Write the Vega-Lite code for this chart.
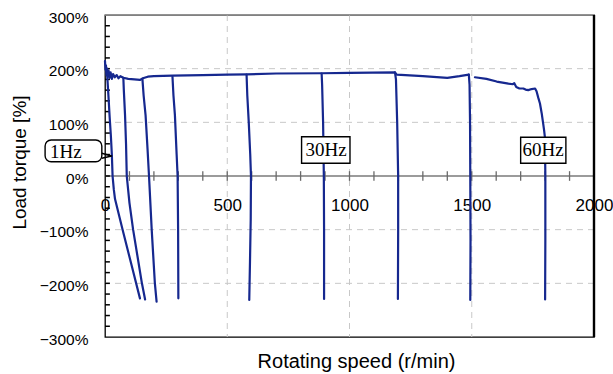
{
  "$schema": "https://vega.github.io/schema/vega-lite/v6.json",
  "width": 489,
  "height": 322,
  "autosize": {"type": "none"},
  "padding": {"left": 105, "top": 15, "right": 19, "bottom": 37},
  "background": "white",
  "config": {"view": {"stroke": "#000", "strokeWidth": 1.3}, "font": "Liberation Sans"},
  "datasets": {
    "curves": [
      {"s":"env","i":0,"v":0,"t":214},{"s":"env","i":1,"v":2,"t":198},{"s":"env","i":2,"v":4,"t":206},{"s":"env","i":3,"v":6,"t":188},{"s":"env","i":4,"v":9,"t":200},{"s":"env","i":5,"v":12,"t":185},{"s":"env","i":6,"v":15,"t":196},{"s":"env","i":7,"v":19,"t":183},{"s":"env","i":8,"v":23,"t":193},{"s":"env","i":9,"v":28,"t":181},{"s":"env","i":10,"v":33,"t":190},{"s":"env","i":11,"v":40,"t":184},{"s":"env","i":12,"v":48,"t":188},{"s":"env","i":13,"v":55,"t":182},{"s":"env","i":14,"v":63,"t":186},{"s":"env","i":15,"v":75,"t":183},{"s":"env","i":16,"v":95,"t":181},{"s":"env","i":17,"v":120,"t":180},{"s":"env","i":18,"v":143,"t":179},{"s":"env","i":19,"v":155,"t":182},{"s":"env","i":20,"v":175,"t":185},{"s":"env","i":21,"v":200,"t":186},{"s":"env","i":22,"v":276,"t":187},{"s":"env","i":23,"v":400,"t":188},{"s":"env","i":24,"v":500,"t":189},{"s":"env","i":25,"v":580,"t":189.5},{"s":"env","i":26,"v":700,"t":191},{"s":"env","i":27,"v":886,"t":191.5},{"s":"env","i":28,"v":1000,"t":192},{"s":"env","i":29,"v":1186,"t":193},{"s":"env","i":30,"v":1193,"t":189},{"s":"env","i":31,"v":1300,"t":186},{"s":"env","i":32,"v":1400,"t":183},{"s":"env","i":33,"v":1450,"t":186},{"s":"env","i":34,"v":1488,"t":189},
      {"s":"1Hz","i":0,"v":8,"t":194},{"s":"1Hz","i":1,"v":10,"t":180},{"s":"1Hz","i":2,"v":14,"t":150},{"s":"1Hz","i":3,"v":19,"t":110},{"s":"1Hz","i":4,"v":24,"t":75},{"s":"1Hz","i":5,"v":28,"t":40},{"s":"1Hz","i":6,"v":31,"t":0},{"s":"1Hz","i":7,"v":36,"t":-25},{"s":"1Hz","i":8,"v":41,"t":-43},{"s":"1Hz","i":9,"v":72,"t":-100},{"s":"1Hz","i":10,"v":108,"t":-165},{"s":"1Hz","i":11,"v":143,"t":-228},
      {"s":"3Hz","i":0,"v":75,"t":183},{"s":"3Hz","i":1,"v":77,"t":160},{"s":"3Hz","i":2,"v":82,"t":113},{"s":"3Hz","i":3,"v":86,"t":60},{"s":"3Hz","i":4,"v":89,"t":0},{"s":"3Hz","i":5,"v":100,"t":-50},{"s":"3Hz","i":6,"v":115,"t":-100},{"s":"3Hz","i":7,"v":133,"t":-150},{"s":"3Hz","i":8,"v":151,"t":-200},{"s":"3Hz","i":9,"v":164,"t":-230},
      {"s":"6Hz","i":0,"v":153,"t":181},{"s":"6Hz","i":1,"v":158,"t":150},{"s":"6Hz","i":2,"v":166,"t":113},{"s":"6Hz","i":3,"v":174,"t":50},{"s":"6Hz","i":4,"v":180,"t":0},{"s":"6Hz","i":5,"v":191,"t":-100},{"s":"6Hz","i":6,"v":204,"t":-200},{"s":"6Hz","i":7,"v":211,"t":-234},
      {"s":"10Hz","i":0,"v":276,"t":185},{"s":"10Hz","i":1,"v":280,"t":150},{"s":"10Hz","i":2,"v":286,"t":113},{"s":"10Hz","i":3,"v":293,"t":40},{"s":"10Hz","i":4,"v":297,"t":0},{"s":"10Hz","i":5,"v":299,"t":-100},{"s":"10Hz","i":6,"v":300,"t":-228},
      {"s":"20Hz","i":0,"v":579,"t":189},{"s":"20Hz","i":1,"v":582,"t":150},{"s":"20Hz","i":2,"v":588,"t":100},{"s":"20Hz","i":3,"v":594,"t":40},{"s":"20Hz","i":4,"v":597,"t":0},{"s":"20Hz","i":5,"v":596,"t":-80},{"s":"20Hz","i":6,"v":593,"t":-160},{"s":"20Hz","i":7,"v":590,"t":-231},
      {"s":"30Hz","i":0,"v":886,"t":191},{"s":"30Hz","i":1,"v":888,"t":170},{"s":"30Hz","i":2,"v":892,"t":100},{"s":"30Hz","i":3,"v":895,"t":0},{"s":"30Hz","i":4,"v":896,"t":-100},{"s":"30Hz","i":5,"v":896,"t":-229},
      {"s":"40Hz","i":0,"v":1186,"t":193},{"s":"40Hz","i":1,"v":1190,"t":180},{"s":"40Hz","i":2,"v":1195,"t":100},{"s":"40Hz","i":3,"v":1199,"t":0},{"s":"40Hz","i":4,"v":1199,"t":-100},{"s":"40Hz","i":5,"v":1198,"t":-229},
      {"s":"50Hz","i":0,"v":1488,"t":189},{"s":"50Hz","i":1,"v":1491,"t":170},{"s":"50Hz","i":2,"v":1493,"t":100},{"s":"50Hz","i":3,"v":1494,"t":0},{"s":"50Hz","i":4,"v":1495,"t":-120},{"s":"50Hz","i":5,"v":1494,"t":-231},
      {"s":"60Hz","i":0,"v":1513,"t":184},{"s":"60Hz","i":1,"v":1560,"t":181},{"s":"60Hz","i":2,"v":1602,"t":176},{"s":"60Hz","i":3,"v":1650,"t":172},{"s":"60Hz","i":4,"v":1668,"t":171},{"s":"60Hz","i":5,"v":1674,"t":173},{"s":"60Hz","i":6,"v":1682,"t":166},{"s":"60Hz","i":7,"v":1695,"t":163},{"s":"60Hz","i":8,"v":1711,"t":163},{"s":"60Hz","i":9,"v":1720,"t":161},{"s":"60Hz","i":10,"v":1731,"t":160},{"s":"60Hz","i":11,"v":1745,"t":162},{"s":"60Hz","i":12,"v":1759,"t":163},{"s":"60Hz","i":13,"v":1765,"t":158},{"s":"60Hz","i":14,"v":1772,"t":146},{"s":"60Hz","i":15,"v":1779,"t":135},{"s":"60Hz","i":16,"v":1786,"t":117},{"s":"60Hz","i":17,"v":1792,"t":98},{"s":"60Hz","i":18,"v":1796,"t":85},{"s":"60Hz","i":19,"v":1799,"t":73},{"s":"60Hz","i":20,"v":1800,"t":40},{"s":"60Hz","i":21,"v":1801,"t":0},{"s":"60Hz","i":22,"v":1801,"t":-120},{"s":"60Hz","i":23,"v":1800,"t":-230}
    ],
    "boxes": [
      {"label":"1Hz","v":-245,"v2":-13,"t":67,"t2":26.6,"tv":-160,"tt":44.7,"round":1},
      {"label":"30Hz","v":804,"v2":1002,"t":73.2,"t2":23.7,"tv":904,"tt":48.4,"round":0},
      {"label":"60Hz","v":1700,"v2":1885,"t":72.1,"t2":23.7,"tv":1792,"tt":48.4,"round":0}
    ],
    "pointer": [
      {"i":0,"v":-13,"t":42.3},{"i":1,"v":27,"t":37.3},{"i":2,"v":-13,"t":33}
    ],
    "yticks": [
      {"t":-280},{"t":-260},{"t":-240},{"t":-220},{"t":-200},{"t":-180},{"t":-160},{"t":-140},{"t":-120},{"t":-100},{"t":-80},{"t":-60},{"t":-40},{"t":-20},{"t":0},{"t":20},{"t":40},{"t":60},{"t":80},{"t":100},{"t":120},{"t":140},{"t":160},{"t":180},{"t":200},{"t":220},{"t":240},{"t":260},{"t":280}
    ],
    "xticks": [
      {"v":100},{"v":200},{"v":300},{"v":400},{"v":500},{"v":600},{"v":700},{"v":800},{"v":900},{"v":1000},{"v":1100},{"v":1200},{"v":1300},{"v":1400},{"v":1500},{"v":1600},{"v":1700},{"v":1800},{"v":1900}
    ]
  },
  "layer": [
    {
      "data": {"name":"curves"},
      "mark": {"type":"line","color":"#16288f","strokeWidth":2.2,"opacity":0},
      "encoding": {
        "x": {"field":"v","type":"quantitative","scale":{"domain":[0,2000],"nice":false},
          "axis": {"orient":"bottom","offset":-161,"domain":false,"grid":false,"ticks":false,"tickSize":0,
            "values":[0,500,1000,1500,2000],
            "format":"d","labelFlush":false,"labelOverlap":false,
            "labelFont":"Liberation Sans","labelFontSize":17,"labelColor":"#000","labelPadding":29,"labelBaseline":"middle",
            "title":"Rotating speed (r/min)","titleFont":"Liberation Sans","titleFontSize":20,"titleFontWeight":"normal","titleColor":"#000",
            "titleX":251,"titleY":191,"titleBaseline":"alphabetic","titleAlign":"center"}},
        "y": {"field":"t","type":"quantitative","scale":{"domain":[-300,300],"nice":false},
          "axis": {"orient":"left","domain":false,"grid":false,"ticks":false,"tickSize":0,
            "values":[-300,-200,-100,0,100,200,300],
            "labelExpr":"format(datum.value, 'd') + '%'","labelOverlap":false,
            "labelFont":"Liberation Sans","labelFontSize":15.5,"labelColor":"#000","labelPadding":17,"labelBaseline":"middle","labelOffset":2,
            "title":"Load torque [%]","titleFont":"Liberation Sans","titleFontSize":19,"titleFontWeight":"normal","titleColor":"#000",
            "titleX":-85.5,"titleY":147,"titleAngle":-90,"titleBaseline":"middle","titleAlign":"center"}},
        "detail": {"field":"s"},
        "order": {"field":"i","type":"quantitative"}
      }
    },
    {
      "data": {"values": [{"t":200},{"t":100},{"t":-100},{"t":-200}]},
      "mark": {"type":"rule","color":"#c8c8c8","strokeDash":[6,5],"strokeWidth":1},
      "encoding": {"y": {"field":"t","type":"quantitative","scale":{"domain":[-300,300],"nice":false}}}
    },
    {
      "data": {"values": [{"v":500},{"v":1000},{"v":1500}]},
      "mark": {"type":"rule","color":"#c8c8c8","strokeDash":[6,5],"strokeWidth":1},
      "encoding": {"x": {"field":"v","type":"quantitative","scale":{"domain":[0,2000],"nice":false}}}
    },
    {
      "data": {"values": [{"t":0}]},
      "mark": {"type":"rule","color":"#7a7a7a","strokeWidth":1.5},
      "encoding": {"y": {"field":"t","type":"quantitative","scale":{"domain":[-300,300],"nice":false}}}
    },
    {
      "data": {"name":"xticks"},
      "mark": {"type":"rule","color":"#6a6a6a","strokeWidth":1.3},
      "encoding": {
        "x": {"field":"v","type":"quantitative","scale":{"domain":[0,2000],"nice":false}},
        "y": {"datum":-9,"type":"quantitative","scale":{"domain":[-300,300],"nice":false}},
        "y2": {"datum":9}
      }
    },
    {
      "data": {"name":"yticks"},
      "mark": {"type":"rule","color":"#000","strokeWidth":1.5},
      "encoding": {
        "y": {"field":"t","type":"quantitative","scale":{"domain":[-300,300],"nice":false}},
        "x": {"datum":0,"type":"quantitative","scale":{"domain":[0,2000],"nice":false}},
        "x2": {"datum":20}
      }
    },
    {
      "data": {"name":"curves"},
      "mark": {"type":"line","color":"#16288f","strokeWidth":2.2,"strokeJoin":"round","strokeCap":"round"},
      "encoding": {
        "x": {"field":"v","type":"quantitative","scale":{"domain":[0,2000],"nice":false}},
        "y": {"field":"t","type":"quantitative","scale":{"domain":[-300,300],"nice":false}},
        "detail": {"field":"s"},
        "order": {"field":"i","type":"quantitative"}
      }
    },
    {
      "data": {"name":"boxes"},
      "transform": [{"filter":"datum.round == 1"}],
      "mark": {"type":"rect","fill":"white","stroke":"#000","strokeWidth":1.4,"cornerRadius":6},
      "encoding": {
        "x": {"field":"v","type":"quantitative","scale":{"domain":[0,2000],"nice":false}},
        "x2": {"field":"v2"},
        "y": {"field":"t","type":"quantitative","scale":{"domain":[-300,300],"nice":false}},
        "y2": {"field":"t2"}
      }
    },
    {
      "data": {"name":"pointer"},
      "mark": {"type":"line","color":"#000","strokeWidth":1.4,"strokeJoin":"round"},
      "encoding": {
        "x": {"field":"v","type":"quantitative","scale":{"domain":[0,2000],"nice":false}},
        "y": {"field":"t","type":"quantitative","scale":{"domain":[-300,300],"nice":false}},
        "order": {"field":"i","type":"quantitative"}
      }
    },
    {
      "data": {"name":"boxes"},
      "transform": [{"filter":"datum.round == 0"}],
      "mark": {"type":"rect","fill":"white","stroke":"#000","strokeWidth":1.4},
      "encoding": {
        "x": {"field":"v","type":"quantitative","scale":{"domain":[0,2000],"nice":false}},
        "x2": {"field":"v2"},
        "y": {"field":"t","type":"quantitative","scale":{"domain":[-300,300],"nice":false}},
        "y2": {"field":"t2"}
      }
    },
    {
      "data": {"name":"boxes"},
      "mark": {"type":"text","font":"Liberation Serif","fontSize":19,"color":"#000","align":"center","baseline":"middle"},
      "encoding": {
        "x": {"field":"tv","type":"quantitative","scale":{"domain":[0,2000],"nice":false}},
        "y": {"field":"tt","type":"quantitative","scale":{"domain":[-300,300],"nice":false}},
        "text": {"field":"label"}
      }
    },
    {
      "data": {"values": [{"t":300}]},
      "mark": {"type":"rule","color":"#999","strokeWidth":1.6},
      "encoding": {"y": {"field":"t","type":"quantitative","scale":{"domain":[-300,300],"nice":false}}}
    },
    {
      "data": {"values": [{"v":2000}]},
      "mark": {"type":"rule","color":"#000","strokeWidth":2.4},
      "encoding": {"x": {"field":"v","type":"quantitative","scale":{"domain":[0,2000],"nice":false}}}
    }
  ]
}
